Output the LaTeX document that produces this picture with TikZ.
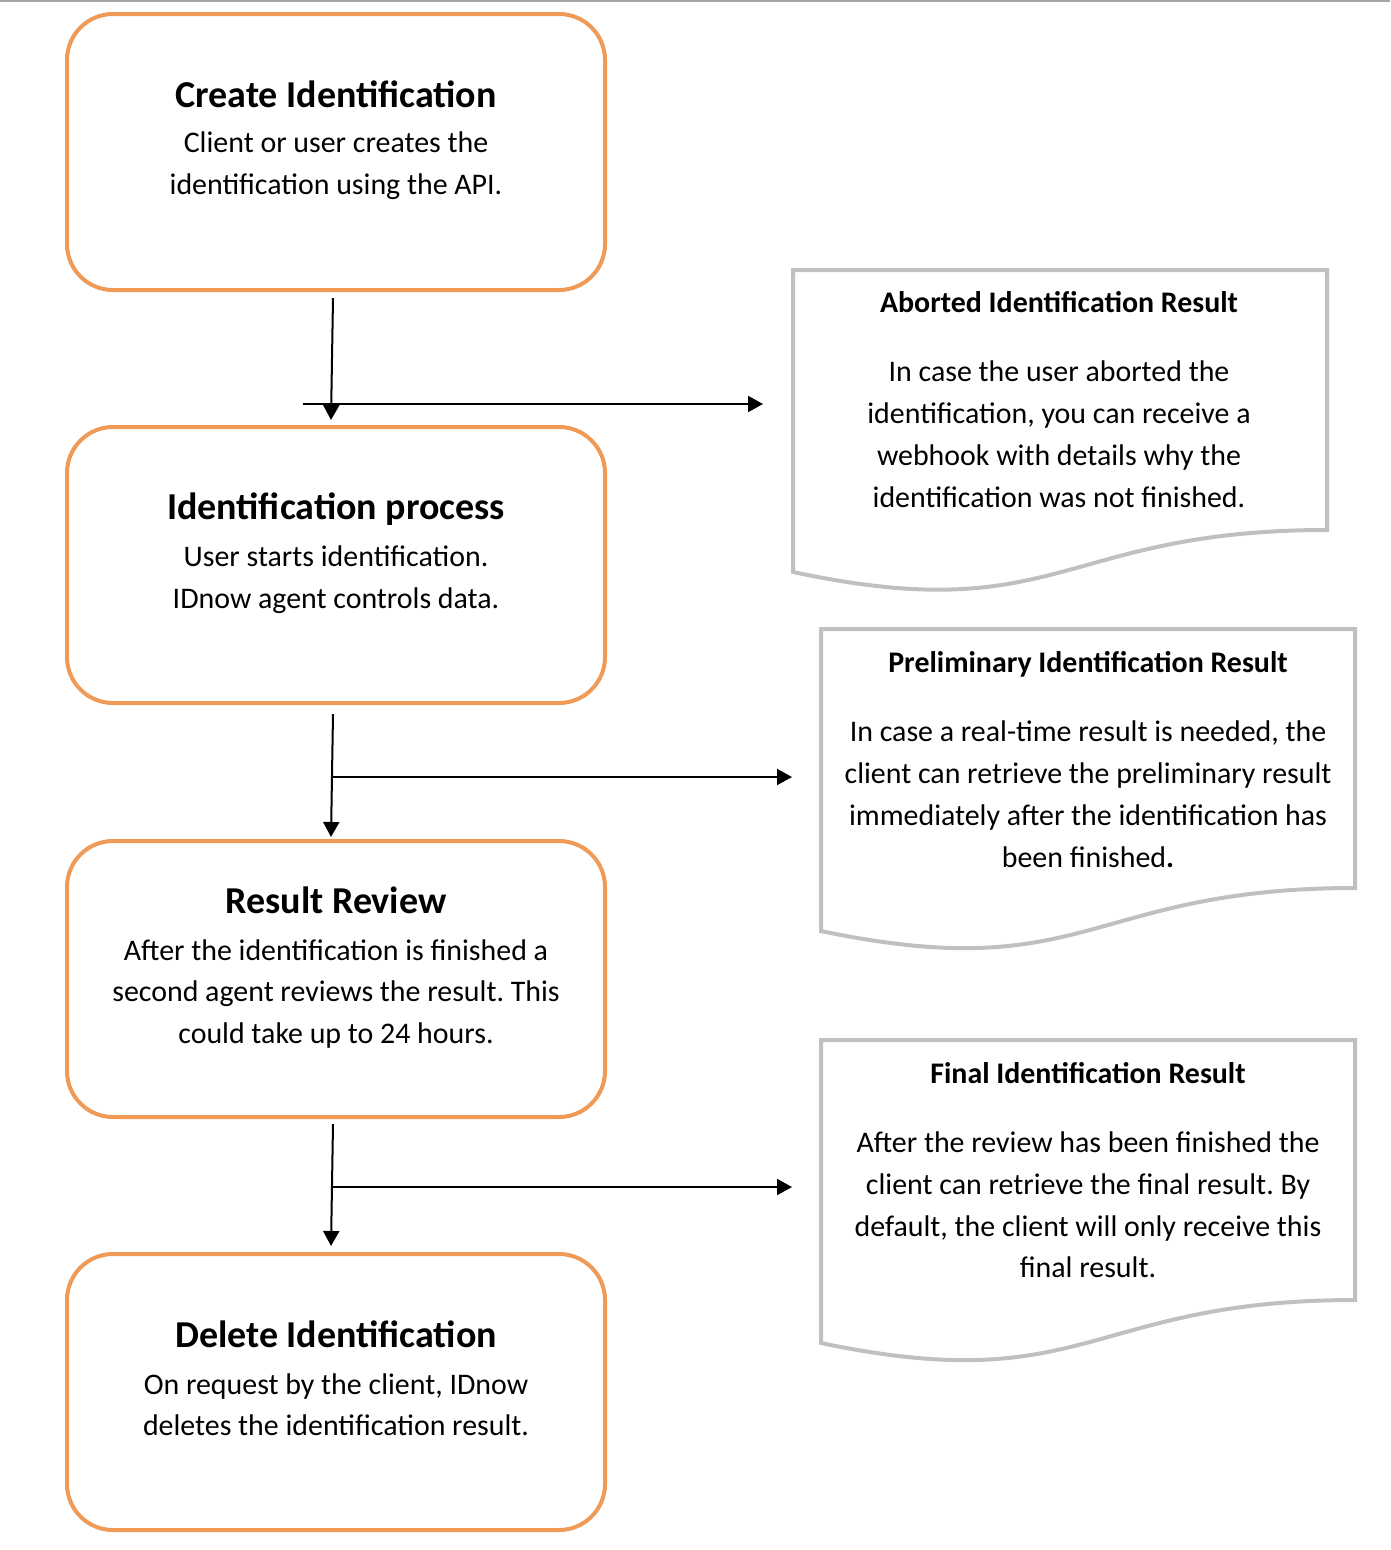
\documentclass[tikz,border=0pt]{standalone}
\usepackage{fontspec}
\setmainfont{Carlito}
\usetikzlibrary{arrows.meta}
\definecolor{boxorange}{RGB}{239,154,86}
\definecolor{docgray}{RGB}{192,192,192}
\definecolor{rulegray}{RGB}{165,165,165}
\tikzset{
  obox/.style={draw=boxorange, line width=4pt, rounded corners=46pt, minimum width=538pt, minimum height=276pt, inner sep=0pt},
  docline/.style={draw=docgray, line width=4pt, line join=miter},
  btitle/.style={font=\fontsize{38}{42}\selectfont\bfseries, anchor=base, inner sep=0pt},
  btext/.style={font=\fontsize{29.9}{42}\selectfont, anchor=base, inner sep=0pt},
  dtitle/.style={font=\fontsize{29.9}{42}\selectfont\bfseries, anchor=base, inner sep=0pt},
  flow/.style={line width=2pt, -{Triangle[length=15pt,width=16pt]}},
}
\frenchspacing
\begin{document}
\begin{tikzpicture}[x=1pt,y=-1pt]
\useasboundingbox (0,0) rectangle (1390,1550);
\draw[rulegray, line width=2pt] (0,1) -- (1390,1);

% process boxes
\node[obox] (b1) at (336,152) {};
\node[obox] (b2) at (336,565) {};
\node[obox] (b3) at (336,979) {};
\node[obox] (b4) at (336,1392) {};

\node[btitle] (b1t) at (336,107) {Create Identification};
\node[btext] (b1l1) at (336,152) {Client or user creates the};
\node[btext] (b1l2) at (336,194) {identification using the API.};

\node[btitle] (b2t) at (336,519) {Identification process};
\node[btext] (b2l1) at (336,566) {User starts identification.};
\node[btext] (b2l2) at (336,608) {IDnow agent controls data.};

\node[btitle] (b3t) at (336,913) {Result Review};
\node[btext] (b3l1) at (336,960) {After the identification is finished a};
\node[btext] (b3l2) at (336,1001) {second agent reviews the result. This};
\node[btext] (b3l3) at (336,1043) {could take up to 24 hours.};

\node[btitle] (b4t) at (336,1347) {Delete Identification};
\node[btext] (b4l1) at (336,1394) {On request by the client, IDnow};
\node[btext] (b4l2) at (336,1435) {deletes the identification result.};

% document shapes
\draw[docline] (793,270) -- (1327,270) -- (1327,530)
  .. controls (1060,530) and (1060,629) .. (793,572) -- cycle;
\draw[docline] (821,629) -- (1355,629) -- (1355,888)
  .. controls (1088,888) and (1088,987) .. (821,931) -- cycle;
\draw[docline] (821,1040) -- (1355,1040) -- (1355,1300)
  .. controls (1088,1300) and (1088,1399) .. (821,1343) -- cycle;

\node[dtitle] (d1t) at (1059,312) {Aborted Identification Result};
\node[btext] (d1l1) at (1059,381) {In case the user aborted the};
\node[btext] (d1l2) at (1059,423) {identification, you can receive a};
\node[btext] (d1l3) at (1059,465) {webhook with details why the};
\node[btext] (d1l4) at (1059,507) {identification was not finished.};

\node[dtitle] (d2t) at (1088,672) {Preliminary Identification Result};
\node[btext] (d2l1) at (1088,741) {In case a real-time result is needed, the};
\node[btext] (d2l2) at (1088,783) {client can retrieve the preliminary result};
\node[btext] (d2l3) at (1088,825) {immediately after the identification has};
\node[btext] (d2l4) at (1088,867) {been finished\textbf{.}};

\node[dtitle] (d3t) at (1088,1083) {Final Identification Result};
\node[btext] (d3l1) at (1088,1152) {After the review has been finished the};
\node[btext] (d3l2) at (1088,1194) {client can retrieve the final result. By};
\node[btext] (d3l3) at (1088,1236) {default, the client will only receive this};
\node[btext] (d3l4) at (1088,1277) {final result.};

% connector coordinates
\coordinate (v1s) at (333,298);
\coordinate (v1e) at (331,420);
\coordinate (h1s) at (303,404);
\coordinate (h1e) at (763,404);
\coordinate (v2s) at (333,714);
\coordinate (v2e) at (331,837);
\coordinate (h2s) at (332,777);
\coordinate (h2e) at (792,777);
\coordinate (v3s) at (333,1124);
\coordinate (v3e) at (331,1246);
\coordinate (h3s) at (332,1187);
\coordinate (h3e) at (792,1187);

\draw[flow] (v1s) -- (v1e);
\draw[flow] (h1s) -- (h1e);
\draw[flow] (v2s) -- (v2e);
\draw[flow] (h2s) -- (h2e);
\draw[flow] (v3s) -- (v3e);
\draw[flow] (h3s) -- (h3e);
\end{tikzpicture}
\end{document}
